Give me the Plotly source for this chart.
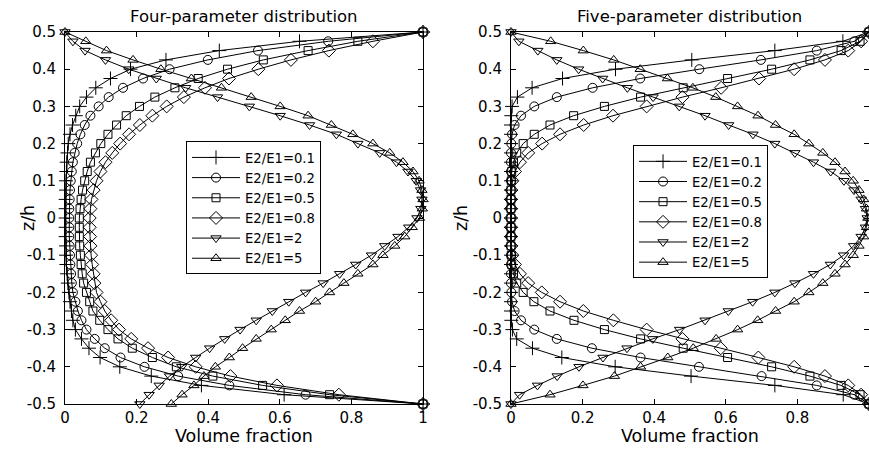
import plotly.graph_objects as go

# z/h sample positions (top to bottom)
z = [0.5, 0.475, 0.45, 0.425, 0.4, 0.375, 0.35, 0.325, 0.3, 0.275, 0.25,
     0.225, 0.2, 0.175, 0.15, 0.125, 0.1, 0.075, 0.05, 0.025, 0.0,
     -0.025, -0.05, -0.075, -0.1, -0.125, -0.15, -0.175, -0.2, -0.225, -0.25,
     -0.275, -0.3, -0.325, -0.35, -0.375, -0.4, -0.425, -0.45, -0.475, -0.5]

series_names = ["E2/E1=0.1", "E2/E1=0.2", "E2/E1=0.5", "E2/E1=0.8", "E2/E1=2", "E2/E1=5"]

# ---- Four-parameter distribution (left) ----
four_01 = [1.000, 0.655, 0.431, 0.282, 0.183, 0.127, 0.086, 0.060, 0.041, 0.030, 0.021,
           0.014, 0.009, 0.007, 0.005, 0.004, 0.003, 0.003, 0.002, 0.002, 0.002,
           0.002, 0.002, 0.003, 0.003, 0.004, 0.006, 0.008, 0.011, 0.014, 0.018,
           0.022, 0.029, 0.046, 0.067, 0.098, 0.153, 0.241, 0.381, 0.612, 1.000]
four_02 = [1.000, 0.735, 0.539, 0.399, 0.292, 0.218, 0.162, 0.122, 0.094, 0.071, 0.055,
           0.043, 0.034, 0.027, 0.022, 0.019, 0.016, 0.014, 0.013, 0.012, 0.012,
           0.012, 0.012, 0.013, 0.014, 0.015, 0.017, 0.019, 0.022, 0.029, 0.036,
           0.046, 0.060, 0.083, 0.111, 0.155, 0.222, 0.316, 0.459, 0.672, 1.000]
four_05 = [1.000, 0.818, 0.679, 0.554, 0.454, 0.372, 0.307, 0.251, 0.208, 0.171, 0.144,
           0.120, 0.100, 0.085, 0.071, 0.062, 0.055, 0.049, 0.045, 0.042, 0.040,
           0.040, 0.040, 0.041, 0.043, 0.045, 0.048, 0.052, 0.060, 0.069, 0.078,
           0.097, 0.120, 0.148, 0.188, 0.244, 0.311, 0.413, 0.552, 0.739, 1.000]
four_08 = [1.000, 0.860, 0.737, 0.631, 0.540, 0.458, 0.391, 0.332, 0.284, 0.244, 0.209,
           0.179, 0.154, 0.132, 0.113, 0.099, 0.088, 0.080, 0.074, 0.071, 0.069,
           0.069, 0.070, 0.071, 0.073, 0.076, 0.080, 0.082, 0.088, 0.099, 0.111,
           0.129, 0.151, 0.185, 0.232, 0.288, 0.365, 0.462, 0.592, 0.765, 1.000]
four_2 = [0.000, 0.022, 0.056, 0.113, 0.178, 0.255, 0.337, 0.426, 0.515, 0.601, 0.683,
          0.758, 0.818, 0.879, 0.926, 0.958, 0.981, 0.993, 0.997, 0.994, 0.983,
          0.960, 0.930, 0.893, 0.856, 0.812, 0.767, 0.721, 0.672, 0.625, 0.579,
          0.534, 0.489, 0.446, 0.404, 0.365, 0.326, 0.292, 0.263, 0.235, 0.209]
four_5 = [0.000, 0.058, 0.116, 0.190, 0.268, 0.353, 0.437, 0.520, 0.601, 0.679, 0.744,
          0.804, 0.860, 0.907, 0.944, 0.972, 0.989, 0.997, 1.000, 0.998, 0.990,
          0.970, 0.949, 0.921, 0.888, 0.860, 0.818, 0.779, 0.739, 0.700, 0.655,
          0.615, 0.576, 0.534, 0.496, 0.459, 0.420, 0.388, 0.360, 0.327, 0.297]

# ---- Five-parameter distribution (right) ----
five_01 = [1.000, 0.927, 0.737, 0.505, 0.292, 0.144, 0.059, 0.018, 0.003, 0.001, 0.000,
           0.000, 0.000, 0.000, 0.000, 0.000, 0.000, 0.000, 0.000, 0.000, 0.000,
           0.000, 0.000, 0.000, 0.000, 0.000, 0.000, 0.000, 0.000, 0.000, 0.000,
           0.001, 0.004, 0.016, 0.060, 0.142, 0.291, 0.503, 0.737, 0.928, 1.000]
five_02 = [1.000, 0.959, 0.854, 0.698, 0.526, 0.361, 0.228, 0.128, 0.065, 0.028, 0.010,
           0.003, 0.001, 0.000, 0.000, 0.000, 0.000, 0.000, 0.000, 0.000, 0.000,
           0.000, 0.000, 0.000, 0.000, 0.000, 0.000, 0.000, 0.001, 0.003, 0.010,
           0.028, 0.065, 0.128, 0.226, 0.362, 0.525, 0.700, 0.854, 0.959, 1.000]
five_05 = [1.000, 0.975, 0.922, 0.835, 0.728, 0.605, 0.481, 0.362, 0.261, 0.175, 0.109,
           0.065, 0.034, 0.016, 0.007, 0.002, 0.001, 0.000, 0.000, 0.000, 0.000,
           0.000, 0.000, 0.000, 0.001, 0.002, 0.007, 0.016, 0.034, 0.064, 0.109,
           0.176, 0.261, 0.362, 0.481, 0.605, 0.728, 0.835, 0.922, 0.975, 1.000]
five_08 = [1.000, 0.978, 0.942, 0.877, 0.791, 0.693, 0.587, 0.479, 0.379, 0.285, 0.203,
           0.137, 0.087, 0.048, 0.025, 0.011, 0.004, 0.001, 0.000, 0.000, 0.000,
           0.000, 0.000, 0.001, 0.004, 0.011, 0.025, 0.048, 0.086, 0.137, 0.202,
           0.286, 0.379, 0.479, 0.586, 0.691, 0.791, 0.877, 0.942, 0.978, 1.000]
five_2 = [0.000, 0.022, 0.075, 0.128, 0.189, 0.256, 0.325, 0.397, 0.470, 0.542, 0.608,
          0.676, 0.737, 0.793, 0.845, 0.893, 0.930, 0.958, 0.978, 0.990, 0.995,
          0.990, 0.978, 0.957, 0.929, 0.892, 0.845, 0.793, 0.737, 0.675, 0.607,
          0.542, 0.471, 0.396, 0.324, 0.257, 0.190, 0.129, 0.074, 0.024, 0.000]
five_5 = [0.000, 0.111, 0.202, 0.287, 0.361, 0.437, 0.508, 0.572, 0.633, 0.690, 0.739,
          0.791, 0.832, 0.871, 0.905, 0.933, 0.956, 0.972, 0.985, 0.993, 0.997,
          0.993, 0.985, 0.972, 0.956, 0.933, 0.905, 0.871, 0.832, 0.791, 0.739,
          0.689, 0.633, 0.573, 0.509, 0.438, 0.362, 0.289, 0.201, 0.109, 0.000]

x_tickvals = [0, 0.2, 0.4, 0.6, 0.8, 1]
x_ticktext_left = ["0", "0.2", "0.4", "0.6", "0.8", "1"]
x_ticktext_right = ["0", "0.2", "0.4", "0.6", "0.8", ""]
y_tickvals = [-0.5, -0.4, -0.3, -0.2, -0.1, 0, 0.1, 0.2, 0.3, 0.4, 0.5]
y_ticktext = ["-0.5", "-0.4", "-0.3", "-0.2", "-0.1", "0", "0.1", "0.2", "0.3", "0.4", "0.5"]

panel_titles = ["Four-parameter distribution", "Five-parameter distribution"]
x_title = "Volume fraction"
y_title = "z/h"

symbols = ["cross-thin-open", "circle-open", "square-open", "diamond-open",
           "triangle-down-open", "triangle-up-open"]
sizes = [10, 9, 8, 10, 9, 9]

FONT = "DejaVu Sans, Liberation Sans, Arial, sans-serif"

fig = go.Figure()
left = [four_01, four_02, four_05, four_08, four_2, four_5]
right = [five_01, five_02, five_05, five_08, five_2, five_5]

for i, xs in enumerate(left):
    fig.add_trace(go.Scatter(
        x=xs, y=z, mode="lines+markers", name=series_names[i],
        line=dict(color="black", width=1),
        marker=dict(symbol=symbols[i], size=sizes[i], color="black", line=dict(width=1, color="black")),
        cliponaxis=False, xaxis="x", yaxis="y", legend="legend"))

for i, xs in enumerate(right):
    fig.add_trace(go.Scatter(
        x=xs, y=z, mode="lines+markers", name=series_names[i],
        line=dict(color="black", width=1),
        marker=dict(symbol=symbols[i], size=sizes[i], color="black", line=dict(width=1, color="black")),
        cliponaxis=False, xaxis="x2", yaxis="y2", legend="legend2"))

axis_common = dict(
    showline=True, linecolor="black", linewidth=1, mirror="ticks",
    ticks="inside", ticklen=5, tickcolor="black", tickwidth=1,
    showgrid=False, zeroline=False, automargin=False,
    tickfont=dict(family=FONT, size=15, color="black"),
)

L_DOM = [0, 0.4453]
R_DOM = [0.5547, 1]

legend_common = dict(xanchor="left", yanchor="top",
                     bgcolor="white", bordercolor="black", borderwidth=1,
                     font=dict(family=FONT, size=13.2, color="black"), itemwidth=48,
                     tracegroupgap=0)

ann_font_t = dict(family=FONT, size=16.5, color="black")
ann_font_a = dict(family=FONT, size=17.5, color="black")

fig.update_layout(
    width=869, height=450,
    margin=dict(l=65, r=0, t=32, b=46, autoexpand=False),
    paper_bgcolor="white", plot_bgcolor="white",
    font=dict(family=FONT, color="black"),
    xaxis=dict(domain=L_DOM, range=[0, 1], tickvals=x_tickvals, ticktext=x_ticktext_left,
               anchor="y", **axis_common),
    yaxis=dict(domain=[0, 1], range=[-0.5, 0.5], tickvals=y_tickvals, ticktext=y_ticktext,
               anchor="x", ticklabelstandoff=5, **axis_common),
    xaxis2=dict(domain=R_DOM, range=[0, 1], tickvals=x_tickvals, ticktext=x_ticktext_right,
                anchor="y2", **axis_common),
    yaxis2=dict(domain=[0, 1], range=[-0.5, 0.5], tickvals=y_tickvals, ticktext=y_ticktext,
                anchor="x2", ticklabelstandoff=5, **axis_common),
    legend=dict(x=0.1505, y=0.706, **legend_common),
    legend2=dict(x=0.7065, y=0.6955, **legend_common),
    annotations=[
        dict(text=panel_titles[0], x=sum(L_DOM) / 2, y=1.041, xref="paper", yref="paper",
             xanchor="center", yanchor="middle", showarrow=False, font=ann_font_t),
        dict(text=panel_titles[1], x=sum(R_DOM) / 2, y=1.041, xref="paper", yref="paper",
             xanchor="center", yanchor="middle", showarrow=False, font=ann_font_t),
        dict(text=x_title, x=sum(L_DOM) / 2, y=-0.086, xref="paper", yref="paper",
             xanchor="center", yanchor="middle", showarrow=False, font=ann_font_a),
        dict(text=x_title, x=sum(R_DOM) / 2, y=-0.086, xref="paper", yref="paper",
             xanchor="center", yanchor="middle", showarrow=False, font=ann_font_a),
        dict(text=y_title, x=-0.046, y=0.5, xref="paper", yref="paper", textangle=-90,
             xanchor="center", yanchor="middle", showarrow=False, font=ann_font_a),
        dict(text=y_title, x=0.4925, y=0.5, xref="paper", yref="paper", textangle=-90,
             xanchor="center", yanchor="middle", showarrow=False, font=ann_font_a),
    ],
)

fig.write_html("out.html",
               config={"displayModeBar": False},
               post_script="document.body.style.margin='0';document.body.style.overflow='hidden';")
